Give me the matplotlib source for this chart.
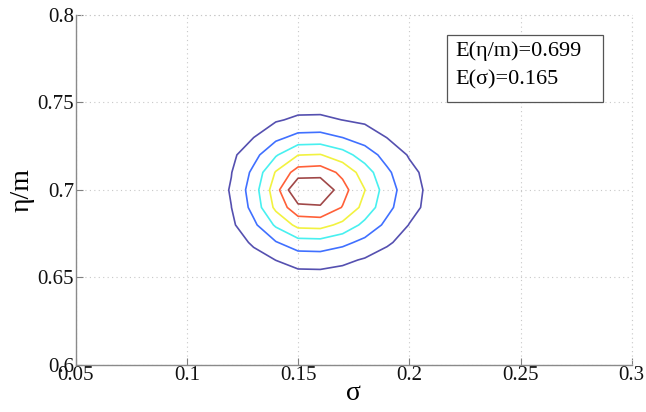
import matplotlib
matplotlib.use("Agg")
import matplotlib.pyplot as plt
import numpy as np
from matplotlib.patches import Rectangle

# ---- data ----
sigma_vals = [0.11, 0.12, 0.13, 0.14, 0.15, 0.16, 0.17, 0.18, 0.19, 0.20, 0.21, 0.22]
eta_vals = [0.65, 0.66, 0.67, 0.68, 0.69, 0.70, 0.71, 0.72, 0.73, 0.74, 0.75]
density = [
    [0.07, 0.17, 0.31, 0.50, 0.65, 0.66, 0.58, 0.43, 0.30, 0.21, 0.11, 0.06],
    [0.14, 0.31, 0.66, 1.01, 1.37, 1.40, 1.20, 0.91, 0.65, 0.35, 0.23, 0.10],
    [0.23, 0.56, 1.13, 1.93, 2.60, 2.65, 2.26, 1.72, 1.11, 0.69, 0.33, 0.20],
    [0.31, 0.82, 1.78, 3.15, 4.29, 4.35, 3.75, 2.72, 1.76, 0.97, 0.55, 0.27],
    [0.36, 0.99, 2.32, 4.24, 5.72, 5.85, 4.95, 3.66, 2.28, 1.31, 0.70, 0.31],
    [0.39, 1.08, 2.52, 4.58, 7.10, 7.00, 5.38, 4.02, 2.48, 1.41, 0.74, 0.32],
    [0.35, 0.97, 2.23, 4.08, 5.46, 5.57, 4.76, 3.51, 2.18, 1.25, 0.67, 0.30],
    [0.29, 0.78, 1.66, 2.89, 3.98, 4.05, 3.43, 2.51, 1.64, 0.92, 0.50, 0.25],
    [0.22, 0.49, 0.99, 1.75, 2.29, 2.34, 1.99, 1.55, 0.98, 0.63, 0.31, 0.18],
    [0.12, 0.28, 0.57, 0.90, 1.17, 1.19, 0.99, 0.82, 0.57, 0.32, 0.21, 0.08],
    [0.07, 0.15, 0.27, 0.40, 0.55, 0.56, 0.48, 0.34, 0.27, 0.18, 0.08, 0.06],
]
levels = [1, 2, 3, 4, 5, 6]
ring_colors = ["#5550b0", "#4070ff", "#48f0f0", "#f2f240", "#ff6038", "#a04848"]

x_ticks = [0.05, 0.1, 0.15, 0.2, 0.25, 0.3]
x_ticklabels = ["0.05", "0.1", "0.15", "0.2", "0.25", "0.3"]
y_ticks = [0.6, 0.65, 0.7, 0.75, 0.8]
y_ticklabels = ["0.6", "0.65", "0.7", "0.75", "0.8"]
annot_lines = ["E(\u03b7/m)=0.699", "E(\u03c3)=0.165"]

# ---- figure ----
plt.rcParams["font.family"] = ["Liberation Serif", "DejaVu Serif"]
fig = plt.figure(figsize=(6.46, 4.12), dpi=100)
ax = fig.add_axes([0.117, 0.114, 0.861, 0.850])

S, E = np.meshgrid(sigma_vals, eta_vals)
ax.contour(S, E, np.array(density), levels=levels, colors=ring_colors, linewidths=1.2)

ax.set_xlim(0.05, 0.3)
ax.set_ylim(0.6, 0.8)
ax.set_xticks(x_ticks)
ax.set_xticklabels(x_ticklabels)
ax.set_yticks(y_ticks)
ax.set_yticklabels(y_ticklabels)
ax.tick_params(direction="in", length=5, width=0.8, color="#808080",
               labelsize=15, pad=1, labelcolor="#111111")

for sp in ["top", "right"]:
    ax.spines[sp].set_visible(False)
for sp in ["left", "bottom"]:
    ax.spines[sp].set_color("#8a8a8a")
    ax.spines[sp].set_linewidth(1.0)

ax.grid(True, color="#c8c8c8", linestyle=(0, (1, 3)), linewidth=0.8)
# edge grid lines at 0.3 and 0.8
ax.axvline(0.3, color="#c8c8c8", linestyle=(0, (1, 3)), linewidth=0.8, clip_on=False)
ax.axhline(0.8, color="#c8c8c8", linestyle=(0, (1, 3)), linewidth=0.8, clip_on=False)

ax.set_xlabel("\u03c3", fontsize=20, labelpad=-3)
ax.set_ylabel("\u03b7/m", fontsize=20, labelpad=2)

# annotation box
ax.add_patch(Rectangle((0.667, 0.751), 0.281, 0.192, transform=ax.transAxes,
                       facecolor="white", edgecolor="#555555", linewidth=0.9, zorder=5))
ax.text(0.682, 0.895, annot_lines[0], transform=ax.transAxes, fontsize=16,
        va="center", ha="left", zorder=6)
ax.text(0.682, 0.815, annot_lines[1], transform=ax.transAxes, fontsize=16,
        va="center", ha="left", zorder=6)

fig.savefig("out.png", dpi=100)
